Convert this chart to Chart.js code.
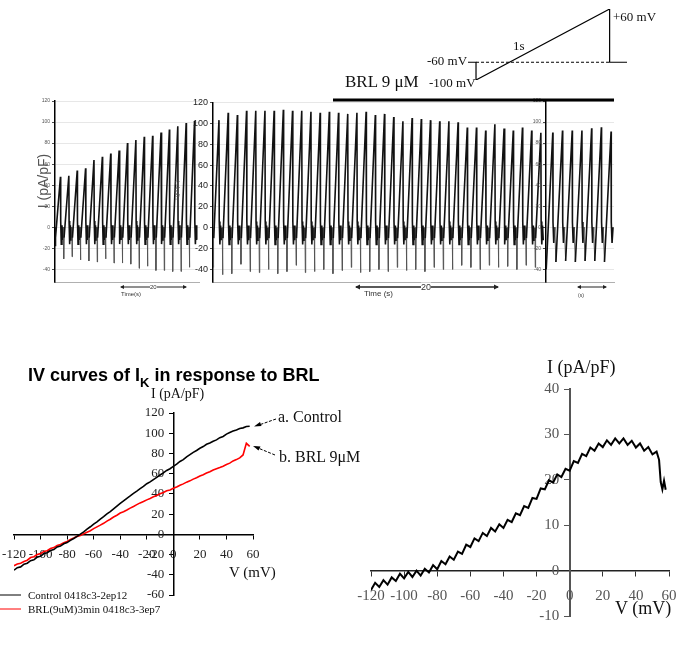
<!DOCTYPE html>
<html><head><meta charset="utf-8">
<script src="https://cdn.jsdelivr.net/npm/chart.js@4.4.1/dist/chart.umd.min.js"></script>
<style>
body{margin:0;background:#fff;}
#wrap{position:relative;width:694px;height:662px;overflow:hidden;background:#fff;}
canvas{position:absolute;}
.t{position:absolute;white-space:nowrap;font-family:"Liberation Serif","Times New Roman",serif;color:#111;line-height:1;transform:translateY(-50%);}
.s{font-family:"Liberation Sans",Arial,sans-serif;}
svg{position:absolute;left:0;top:0;}
</style></head><body><div id="wrap">
<canvas id="cL" style="left:0;top:95px" width="200" height="215"></canvas>
<canvas id="cM" style="left:180px;top:95px" width="365" height="215"></canvas>
<canvas id="cR" style="left:520px;top:95px" width="100" height="215"></canvas>
<canvas id="cP" style="left:460px;top:0" width="180" height="95"></canvas>
<canvas id="cBL" style="left:-20px;top:390px" width="303" height="235"></canvas>
<canvas id="cBR" style="left:340px;top:360px" width="360" height="286"></canvas>

<svg width="694" height="662" viewBox="0 0 694 662">
  <rect x="333" y="98.5" width="281" height="3" fill="#000"/>
  <g stroke="#222" stroke-width="1" fill="#222">
    <line x1="121" y1="287" x2="186" y2="287"/>
    <path d="M120 287 l4 -2 v4z M187 287 l-4 -2 v4z" stroke="none"/>
    <line x1="356" y1="287" x2="498" y2="287" stroke-width="1.3"/>
    <path d="M355 287 l5 -2.5 v5z M499 287 l-5 -2.5 v5z" stroke="none"/>
    <line x1="578" y1="287" x2="606" y2="287"/>
    <path d="M577 287 l4 -2 v4z M607 287 l-4 -2 v4z" stroke="none"/>
  </g>
  <g stroke="#000" stroke-width="1" fill="#000">
    <line x1="276" y1="419" x2="259" y2="425" stroke-dasharray="3,1.5"/>
    <path d="M254 426.5 l6 -4.5 l1.5 4z" stroke="none"/>
    <line x1="275" y1="455" x2="258" y2="448" stroke-dasharray="3,1.5"/>
    <path d="M253 446 l7.5 0.5 l-2 4z" stroke="none"/>
  </g>
  <line x1="0" y1="595" x2="21" y2="595" stroke="#000" stroke-width="1"/>
  <line x1="0" y1="609" x2="21" y2="609" stroke="#ff0000" stroke-width="1"/>
</svg>

<div class="t" style="left:345px;top:81px;font-size:17px">BRL 9 μM</div>
<div class="t" style="left:427px;top:60px;font-size:13px">-60 mV</div>
<div class="t" style="left:429px;top:82px;font-size:13px">-100 mV</div>
<div class="t" style="left:613px;top:16px;font-size:13px">+60 mV</div>
<div class="t" style="left:513px;top:45px;font-size:13px">1s</div>
<div class="t s" style="left:43px;top:181px;font-size:14px;color:#555;transform:translate(-50%,-50%) rotate(-90deg)">I (pA/pF)</div>
<div class="t s" style="left:177px;top:190px;font-size:5px;color:#555;transform:translate(-50%,-50%) rotate(-90deg)">I (pA/pF)</div>
<div class="t s" style="left:121px;top:294px;font-size:6px;color:#333">Time(s)</div>
<div class="t s" style="left:150px;top:287px;font-size:6px;background:#fff;color:#333">20</div>
<div class="t s" style="left:364px;top:294px;font-size:8px;color:#333">Time (s)</div>
<div class="t s" style="left:421px;top:287px;font-size:9px;background:#fff;color:#333">20</div>
<div class="t s" style="left:578px;top:295px;font-size:5px;color:#333">(s)</div>

<div class="t s" style="left:28px;top:377px;font-size:18px;font-weight:bold;color:#000">IV curves of I<sub style="font-size:13px;vertical-align:-6px">K</sub> in response to BRL</div>
<div class="t" style="left:151px;top:394px;font-size:14px">I (pA/pF)</div>
<div class="t" style="left:229px;top:572px;font-size:15px">V (mV)</div>
<div class="t" style="left:278px;top:417px;font-size:16px">a. Control</div>
<div class="t" style="left:279px;top:457px;font-size:16px">b. BRL 9μM</div>
<div class="t" style="left:28px;top:595px;font-size:11px">Control 0418c3-2ep12</div>
<div class="t" style="left:28px;top:609px;font-size:11px">BRL(9uM)3min 0418c3-3ep7</div>
<div class="t" style="left:547px;top:367px;font-size:18px">I (pA/pF)</div>
<div class="t" style="left:615px;top:608px;font-size:18px">V (mV)</div>
</div>
<script>
// ---------- top: ramp-current sweeps (pA/pF) ----------
const leftPeaks   = [48,49,54,56,64,67,70,73,80,83,86,87,90,93,96,99,101];
const leftTroughs = [-18,-30,-28,-31,-32,-33,-30,-34,-34,-35,-39,-37,-41,-41,-42,-42,-38];
const midPeaks    = [103,110,108,112,112,112,112,113,112,112,111,110,111,110,109,110,111,108,
                     109,106,102,105,104,103,102,102,101,96,96,93,99,95,93,96,93,91];
const midTroughs  = [-38,-45,-44,-35,-42,-43,-40,-44,-42,-36,-43,-42,-40,-44,-41,-38,-43,-42,
                     -40,-42,-38,-41,-40,-42,-38,-40,-40,-36,-38,-40,-36,-38,-37,-40,-36,-38];
const rightPeaks  = [90,92,92,92,94,95,91];
const rightTroughs= [-40,-33,-32,-33,-32,-32,-33];
// holding / tail current levels within each sweep
const stepLevels  = [0,-10,6,-16,2,-12];
const rampLevels  = [5,-15,0];
const yTicksTop   = [-40,-20,0,20,40,60,80,100,120];

// ---------- voltage protocol ----------
const protoTime = [0,0.06,0.06,1.06,1.06,1.19];
const protoV    = [-60,-60,-100,60,-60,-60];
const refTime   = [0.06,1.06];
const refV      = [-60,-60];

// ---------- IV curves (bottom left) ----------
const voltsIV = [-120,-117.5,-115,-112.5,-110,-107.5,-105,-102.5,-100,-97.5,-95,-92.5,-90,-87.5,-85,-82.5,
  -80,-77.5,-75,-72.5,-70,-67.5,-65,-62.5,-60,-57.5,-55,-52.5,-50,-47.5,-45,-42.5,-40,-37.5,-35,-32.5,
  -30,-27.5,-25,-22.5,-20,-17.5,-15,-12.5,-10,-7.5,-5,-2.5,0,2.5,5,7.5,10,12.5,15,17.5,20,22.5,25,27.5,
  30,32.5,35,37.5,40,42.5,45,47.5,50,52.5,55,57.5];
const controlIV = [-35.5,-33,-32.2,-29.5,-28.6,-26,-25.2,-22.5,-21.6,-19,-18.2,-16,-15.1,-12.5,-11.6,-9.4,
  -8.2,-6,-4.1,-2,0.2,2.5,5.2,7.5,10.2,12.4,15.1,17.5,20.2,22.4,25.1,27.8,30.6,33,35.6,38,40.6,42.8,45.2,47.4,
  50.1,51.9,54.2,56.4,58.7,60.8,63.2,64.9,67.2,69.4,72.1,73.9,76.6,78.8,81.1,82.9,85.1,86.8,89.1,90.4,
  92.1,93.4,95.6,96.8,99.1,100.7,102.1,103.2,104.6,105.3,106.6,106.9];
const brlIV = [-31,-29.4,-28.6,-26.8,-25.6,-23,-22.2,-20,-19.1,-17,-16.2,-14,-13.1,-11,-10.1,-8.4,
  -7.1,-5,-3.6,-2,-1.1,0.5,2.1,3.5,5.6,7.4,9.1,10.9,13.1,14.9,17.1,18.9,21.1,22.4,24.1,25.9,27.6,29.4,
  31.1,32.4,34.1,35.4,37.1,38.4,40.1,41.4,43.1,43.9,45.6,46.9,48.6,49.9,51.6,52.9,54.6,55.9,57.6,58.9,
  60.6,61.9,63.6,64.9,66.1,67.4,69.1,70.4,72.6,73.9,75.6,78.5,90,87];

// ---------- difference current (bottom right) ----------
const voltsDiff = [-120,-117.5,-115,-112.5,-110,-107.5,-105,-102.5,-100,-97.5,-95,-92.5,-90,-87.5,-85,-82.5,
  -80,-77.5,-75,-72.5,-70,-67.5,-65,-62.5,-60,-57.5,-55,-52.5,-50,-47.5,-45,-42.5,-40,-37.5,-35,-32.5,
  -30,-27.5,-25,-22.5,-20,-17.5,-15,-12.5,-10,-7.5,-5,-2.5,0,2.5,5,7.5,10,12.5,15,17.5,20,22.5,25,27.5,
  30,32.5,35,37.5,40,42.5,45,47.5,50,52.5,54,55,56,57,58];
const diffIV = [-4.3,-2.7,-3.6,-2.1,-3.1,-1.5,-2.3,-0.7,-1.7,-0.3,-1.4,0.0,-1.1,0.4,-0.4,1.2,
  0.3,2.1,1.4,3.1,2.4,4.2,3.7,5.7,5.2,7.1,6.5,8.3,7.6,9.4,8.6,10.2,9.4,11.2,10.7,12.6,
  12.2,14.2,13.8,16.0,15.8,18.1,17.9,19.9,19.4,21.2,20.6,22.4,22.0,24.1,23.7,25.7,25.2,27.1,26.4,28.0,
  27.2,28.7,27.7,29.1,28.0,29.1,27.7,28.6,27.1,28.0,26.4,27.2,25.6,26.2,24.4,19.5,17.9,19.8,17.8];

// ---------- helpers ----------
const SANS = '"Liberation Sans", Arial, sans-serif';
const SERIF = '"Liberation Serif", "Times New Roman", serif';
const stepTimes = [0,0.08,0.68,0.75,0.83,0.91];
function stepSweeps(peaks, troughs){
  const pts=[];
  peaks.forEach((p,i)=>{
    pts.push({x:i+stepTimes[0], y:stepLevels[0]});
    pts.push({x:i+0.04, y:troughs[i]});
    pts.push({x:i+stepTimes[1], y:stepLevels[1]});
    pts.push({x:i+0.65, y:p});
    pts.push({x:i+stepTimes[2], y:stepLevels[2]});
    pts.push({x:i+stepTimes[3], y:stepLevels[3]});
    pts.push({x:i+stepTimes[4], y:stepLevels[4]});
    pts.push({x:i+stepTimes[5], y:stepLevels[5]});
  });
  return pts;
}
function rampSweeps(peaks, troughs){
  const pts=[];
  peaks.forEach((p,i)=>{
    pts.push({x:i+0.02, y:troughs[i]});
    pts.push({x:i+0.7, y:p});
    pts.push({x:i+0.72, y:rampLevels[0]});
    pts.push({x:i+0.8, y:rampLevels[1]});
    pts.push({x:i+0.9, y:rampLevels[2]});
  });
  return pts;
}
// thin grey strokes for the brief steps down to the trough
function isThin(ctx){
  const a=ctx.p0.parsed.y, b=ctx.p1.parsed.y;
  return b < -20 || (a < -20 && b < 0);
}
function traceChart(id, pts, xmax, yWidth, padRight, fontSize, tickColor){
  return new Chart(document.getElementById(id), {
    type:'line',
    data:{datasets:[{data:pts, borderColor:'#111', borderWidth:1.6, pointRadius:0, tension:0,
      segment:{borderColor:c=>isThin(c)?'#555':undefined, borderWidth:c=>isThin(c)?1:undefined}}]},
    options:{
      responsive:false, animation:false, devicePixelRatio:1, events:[],
      layout:{padding:{top:6,right:padRight,left:0,bottom:0}},
      plugins:{legend:{display:false}, tooltip:{enabled:false}},
      scales:{
        x:{type:'linear', min:0, max:xmax, grid:{display:false}, ticks:{display:false},
           border:{color:'#b0b0b0', dash:[4,2], width:1}, afterFit:s=>{s.height=28;}},
        y:{type:'linear', min:-52, max:120,
           afterBuildTicks:s=>{s.ticks=yTicksTop.map(v=>({value:v}));},
           ticks:{font:{size:fontSize, family:SANS}, color:tickColor, padding:2},
           grid:{color:'#dddddd', lineWidth:0.7, tickLength:3, tickColor:'#000'},
           border:{color:'#000', width:1.5},
           afterFit:s=>{s.width=yWidth;}}
      }
    }
  });
}
traceChart('cL', stepSweeps(leftPeaks,leftTroughs), 17.3, 55, 0, 5, '#555');
traceChart('cM', stepSweeps(midPeaks,midTroughs), 36.1, 33, 0, 9, '#222');
traceChart('cR', rampSweeps(rightPeaks,rightTroughs), 7.0, 26, 6, 5, '#555');

// protocol
new Chart(document.getElementById('cP'), {
  type:'line',
  data:{datasets:[
    {data:protoTime.map((t,i)=>({x:t,y:protoV[i]})), borderColor:'#000', borderWidth:1.2, pointRadius:0, tension:0},
    {data:refTime.map((t,i)=>({x:t,y:refV[i]})), borderColor:'#000', borderWidth:1, borderDash:[3,2], pointRadius:0}
  ]},
  options:{responsive:false, animation:false, devicePixelRatio:1, events:[],
    layout:{padding:{left:8,right:13,top:9,bottom:15}},
    plugins:{legend:{display:false}, tooltip:{enabled:false}},
    scales:{x:{type:'linear',display:false,min:0,max:1.19}, y:{display:false,min:-100,max:60}}}
});

// IV curves
new Chart(document.getElementById('cBL'), {
  type:'line',
  data:{datasets:[
    {data:voltsIV.map((v,i)=>({x:v,y:controlIV[i]})), borderColor:'#000', borderWidth:1.6, pointRadius:0, tension:0},
    {data:voltsIV.map((v,i)=>({x:v,y:brlIV[i]})), borderColor:'#ff0000', borderWidth:1.6, pointRadius:0, tension:0}
  ]},
  options:{responsive:false, animation:false, devicePixelRatio:1, events:[],
    layout:{padding:{left:34,right:30,top:23,bottom:30}},
    plugins:{legend:{display:false}, tooltip:{enabled:false}},
    scales:{
      x:{type:'linear', position:{y:0}, min:-120, max:60,
         ticks:{stepSize:20, font:{size:13,family:SERIF}, color:'#222', padding:8, maxRotation:0, autoSkip:false},
         grid:{drawOnChartArea:false, tickLength:4, color:'#000'}, border:{color:'#000', width:1.5}},
      y:{type:'linear', position:{x:0}, min:-60, max:120,
         ticks:{stepSize:20, font:{size:13,family:SERIF}, color:'#222',
                callback:v=>v+'\u2002\u2009'},
         grid:{drawOnChartArea:false, tickLength:4, color:'#000'}, border:{color:'#000', width:1.5}}
    }}
});

// difference current
new Chart(document.getElementById('cBR'), {
  type:'line',
  data:{datasets:[
    {data:voltsDiff.map((v,i)=>({x:v,y:diffIV[i]})), borderColor:'#000', borderWidth:2, pointRadius:0, tension:0}
  ]},
  options:{responsive:false, animation:false, devicePixelRatio:1, events:[],
    layout:{padding:{left:31,right:31,top:29,bottom:30}},
    plugins:{legend:{display:false}, tooltip:{enabled:false}},
    scales:{
      x:{type:'linear', position:{y:0}, min:-120, max:60,
         ticks:{stepSize:20, font:{size:15,family:SERIF}, color:'#555', padding:11, maxRotation:0, autoSkip:false},
         grid:{drawOnChartArea:false, tickLength:5, color:'#333'}, border:{color:'#222', width:1.5}},
      y:{type:'linear', position:{x:0}, min:-10, max:40,
         ticks:{stepSize:10, font:{size:15,family:SERIF}, color:'#555',
                callback:v=>v+'\u2002\u2009'},
         grid:{drawOnChartArea:false, tickLength:5, color:'#555'}, border:{color:'#555', width:2}}
    }}
});
</script>
</body></html>
